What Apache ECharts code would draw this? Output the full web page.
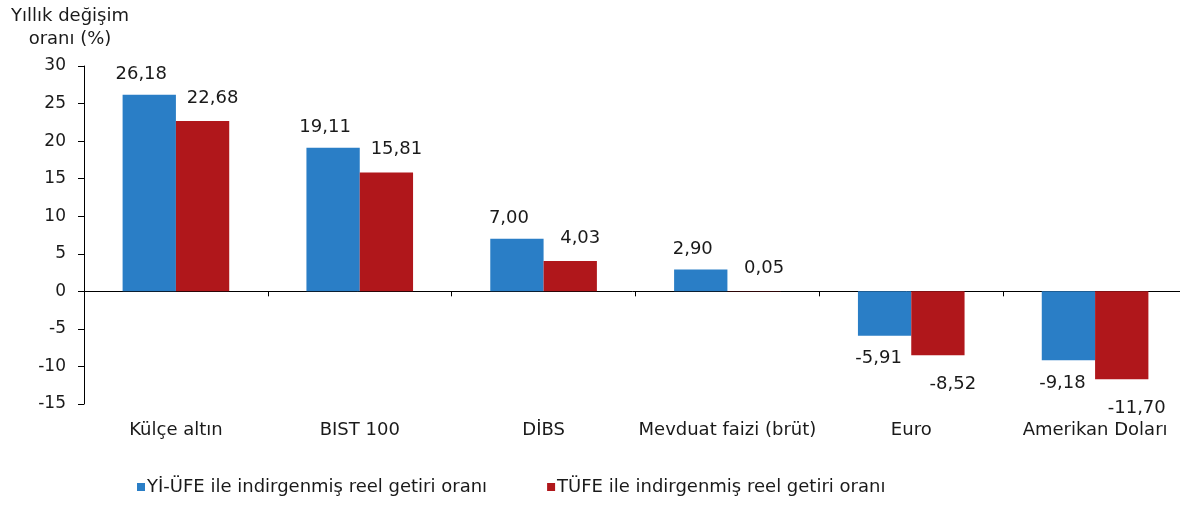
<!DOCTYPE html>
<html>
<head>
<meta charset="utf-8">
<script src="https://cdn.jsdelivr.net/npm/echarts@6/dist/echarts.min.js"></script>
<style>
html,body{margin:0;padding:0;background:#fff;}
#c{width:1180px;height:505px;}
</style>
</head>
<body>
<div id="c"></div>
<script>
const categories = ['Külçe altın', 'BIST 100', 'DİBS', 'Mevduat faizi (brüt)', 'Euro', 'Amerikan Doları'];
const seriesNames = ['Yİ-ÜFE ile indirgenmiş reel getiri oranı', 'TÜFE ile indirgenmiş reel getiri oranı'];
const yiUfe = [26.18, 19.11, 7.00, 2.90, -5.91, -9.18];
const tufe = [22.68, 15.81, 4.03, 0.05, -8.52, -11.70];
const yTitle = 'Yıllık değişim\noranı (%)';

const FONT = 'DejaVu Sans';
const FS = 17;
const FL = 18;
const TXT = '#1a1a1a';
const fmt = v => v.toFixed(2).replace('.', ',');

function mkData(arr, posOffset, negOffset) {
  return arr.map(v => ({
    value: v,
    label: v < 0 ? { position: 'bottom', offset: negOffset } : { position: 'top', offset: posOffset }
  }));
}

const chart = echarts.init(document.getElementById('c'), null, { renderer: 'canvas' });
chart.setOption({
  animation: false,
  backgroundColor: '#ffffff',
  textStyle: { fontFamily: FONT, color: TXT },
  title: {
    text: yTitle,
    left: 65, top: 0,
    textAlign: 'center',
    textStyle: { fontFamily: FONT, fontSize: FL, fontWeight: 'normal', color: TXT, lineHeight: 23 }
  },
  legend: {
    bottom: 4, left: 132,
    itemWidth: 8, itemHeight: 8, itemGap: 60,
    icon: 'rect',
    textStyle: { fontFamily: FONT, fontSize: FL, color: TXT, padding: [0, 0, 0, -3] },
    data: seriesNames
  },
  grid: { left: 84, top: 66, bottom: 101, right: -7, outerBoundsMode: 'none', containLabel: false },
  xAxis: [{
    type: 'category',
    data: categories,
    axisLine: { onZero: true, lineStyle: { color: '#000', width: 1 } },
    axisTick: { show: true, length: 5, lineStyle: { color: '#000' } },
    axisLabel: { show: false },
    splitLine: { show: false }
  }, {
    type: 'category',
    data: categories,
    position: 'bottom',
    axisLine: { show: false, onZero: false },
    axisTick: { show: false },
    axisLabel: { show: true, margin: 17, fontFamily: FONT, fontSize: FL, color: TXT, interval: 0 },
    splitLine: { show: false }
  }],
  yAxis: {
    type: 'value',
    min: -15, max: 30, interval: 5,
    axisLine: { show: true, lineStyle: { color: '#000', width: 1 } },
    axisTick: { show: true, length: 6, lineStyle: { color: '#000' } },
    axisLabel: { fontFamily: FONT, fontSize: FS, color: TXT, margin: 18 },
    splitLine: { show: false }
  },
  series: [{
    name: seriesNames[0],
    type: 'bar',
    xAxisIndex: 0,
    data: mkData(yiUfe, [-8, -6], [-6, 9]),
    itemStyle: { color: '#2a7ec6' },
    barGap: '0%',
    barCategoryGap: '42%',
    label: { show: true, distance: 5, fontFamily: FONT, fontSize: FL, color: TXT, formatter: p => fmt(p.value) }
  }, {
    name: seriesNames[1],
    type: 'bar',
    xAxisIndex: 0,
    data: mkData(tufe, [10, -9], [15, 15]),
    itemStyle: { color: '#b0171b' },
    barGap: '0%',
    barCategoryGap: '42%',
    label: { show: true, distance: 5, fontFamily: FONT, fontSize: FL, color: TXT, formatter: p => fmt(p.value) }
  }]
});
</script>
</body>
</html>
